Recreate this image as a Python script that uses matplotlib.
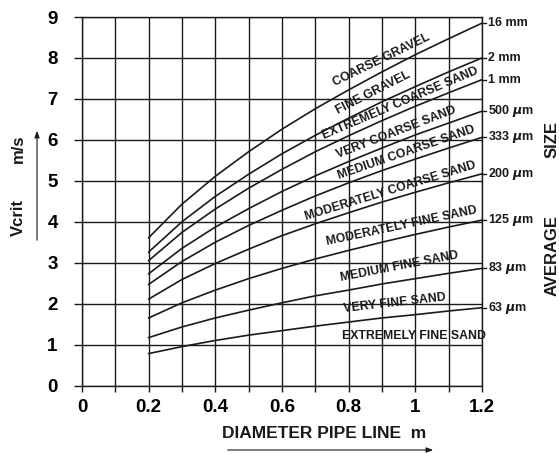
import numpy as np
import matplotlib.pyplot as plt
from matplotlib.patches import FancyArrowPatch

plt.rcParams['font.family'] = ['Liberation Sans', 'DejaVu Sans']
plt.rcParams['font.weight'] = 'bold'

# pipe diameter (m)
diameter = [0.2, 0.3, 0.4, 0.5, 0.6, 0.7, 0.8, 0.9, 1.0, 1.1, 1.2]

# critical velocity (m/s) per average grain size
v_16mm = [3.61, 4.43, 5.11, 5.71, 6.26, 6.76, 7.22, 7.66, 8.08, 8.47, 8.85]
v_2mm = [3.26, 4.00, 4.62, 5.16, 5.66, 6.11, 6.53, 6.93, 7.30, 7.66, 8.00]
v_1mm = [3.05, 3.74, 4.31, 4.82, 5.28, 5.71, 6.10, 6.47, 6.82, 7.15, 7.47]
v_500um = [2.73, 3.35, 3.87, 4.32, 4.74, 5.12, 5.47, 5.80, 6.12, 6.41, 6.70]
v_333um = [2.47, 3.03, 3.50, 3.91, 4.28, 4.63, 4.95, 5.25, 5.53, 5.80, 6.06]
v_200um = [2.11, 2.59, 2.98, 3.33, 3.66, 3.95, 4.22, 4.48, 4.72, 4.95, 5.17]
v_125um = [1.65, 2.02, 2.33, 2.61, 2.86, 3.09, 3.30, 3.50, 3.69, 3.87, 4.04]
v_83um = [1.17, 1.43, 1.65, 1.84, 2.02, 2.19, 2.33, 2.48, 2.61, 2.74, 2.86]
v_63um = [0.78, 0.95, 1.10, 1.23, 1.34, 1.45, 1.55, 1.65, 1.73, 1.82, 1.90]

curves = [v_16mm, v_2mm, v_1mm, v_500um, v_333um, v_200um, v_125um, v_83um, v_63um]
size_labels = ["16 mm", "2 mm", "1 mm", r"500 $\mu$m", r"333 $\mu$m",
               r"200 $\mu$m", r"125 $\mu$m", r"83 $\mu$m", r"63 $\mu$m"]

# band names, with (x, y, rotation) where they sit between the curves
band_names = ["COARSE GRAVEL", "FINE GRAVEL", "EXTREMELY COARSE SAND",
              "VERY COARSE SAND", "MEDIUM COARSE SAND", "MODERATELY COARSE SAND",
              "MODERATELY FINE SAND", "MEDIUM FINE SAND", "VERY FINE SAND",
              "EXTREMELY FINE SAND"]
band_x = [0.898, 0.874, 0.955, 0.943, 0.973, 0.925, 0.958, 0.952, 0.937, 0.997]
band_y = [7.95, 7.15, 6.90, 6.17, 5.68, 4.75, 3.90, 2.90, 2.00, 1.21]
band_rot = [26, 27, 23, 21, 19, 17, 12, 11, 6.5, 0]

x_ticks = [0, 0.2, 0.4, 0.6, 0.8, 1.0, 1.2]
x_ticklabels = ["0", "0.2", "0.4", "0.6", "0.8", "1", "1.2"]
x_minor = [0.1, 0.3, 0.5, 0.7, 0.9, 1.1]
y_ticks = [0, 1, 2, 3, 4, 5, 6, 7, 8, 9]

ink = "#1a1a1a"

fig = plt.figure(figsize=(5.59, 4.53), dpi=100)
ax = fig.add_axes([82 / 559, 1 - 385.5 / 453, 400 / 559, 368.5 / 453])

for v in curves:
    ax.plot(diameter, v, color=ink, lw=1.2)

for v, lab in zip(curves, size_labels):
    ax.plot([1.2, 1.212], [v[-1], v[-1]], color=ink, lw=1.0, clip_on=False)
    ax.text(1.217, v[-1], lab, fontsize=9, ha="left", va="center", color=ink)

for name, x, y, r in zip(band_names, band_x, band_y, band_rot):
    ax.text(x, y, name, fontsize=8.8, ha="center", va="center", rotation=r,
            rotation_mode="anchor", color=ink)

ax.set_xlim(0, 1.2)
ax.set_ylim(0, 9)
ax.set_xticks(x_ticks, x_ticklabels)
ax.set_xticks(x_minor, minor=True)
ax.set_yticks(y_ticks)
ax.grid(True, which="both", color=ink, lw=1.0)
ax.tick_params(axis="y", which="major", length=5.5, width=1.0, color=ink,
               pad=12, labelsize=13.5)
ax.tick_params(axis="x", which="both", length=4.5, width=1.0, color=ink,
               pad=5.5, labelsize=13.5)
for s in ax.spines.values():
    s.set_color(ink)
    s.set_linewidth(1.0)

fig.text(324 / 559, 1 - 433 / 453, "DIAMETER PIPE LINE  m", fontsize=12.5,
         ha="center", va="center", color=ink)
fig.text(18 / 559, 1 - 217 / 453, "Vcrit", fontsize=12, rotation=90,
         ha="center", va="center", color=ink)
fig.text(18 / 559, 1 - 149 / 453, "m/s", fontsize=12, rotation=90,
         ha="center", va="center", color=ink)
fig.text(552 / 559, 1 - 256 / 453, "AVERAGE", fontsize=12, rotation=90,
         ha="center", va="center", color=ink)
fig.text(552 / 559, 1 - 140 / 453, "SIZE", fontsize=12, rotation=90,
         ha="center", va="center", color=ink)

fig.patches.append(FancyArrowPatch(
    (37 / 559, 1 - 243 / 453), (37 / 559, 1 - 128 / 453),
    transform=fig.transFigure, arrowstyle="-|>,head_length=4,head_width=1.5",
    color=ink, lw=0.8))
fig.patches.append(FancyArrowPatch(
    (225 / 559, 1 - 450 / 453), (436 / 559, 1 - 450 / 453),
    transform=fig.transFigure, arrowstyle="-|>,head_length=4,head_width=1.5",
    color=ink, lw=0.8))

fig.savefig("out.png", dpi=100)
